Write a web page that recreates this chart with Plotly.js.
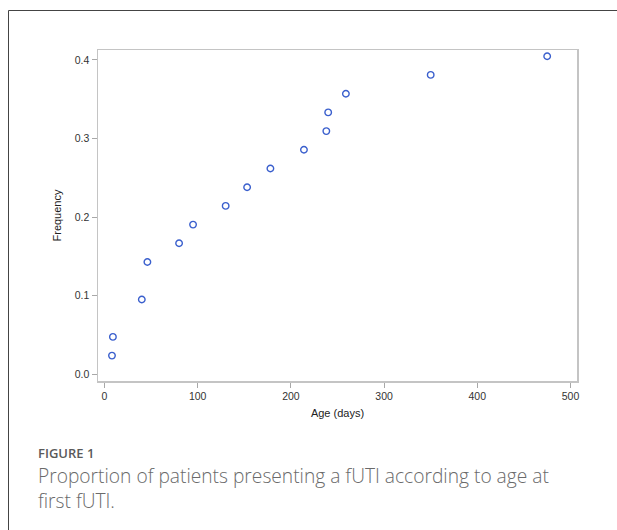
<!DOCTYPE html>
<html>
<head>
<meta charset="utf-8">
<script src="https://cdn.plot.ly/plotly-3.0.1.min.js"></script>
<style>
html,body{margin:0;padding:0;background:#fff;}
#chart{width:617px;height:530px;}
</style>
</head>
<body>
<div id="chart"></div>
<script>
// Data
const ageDays = [8, 9, 40, 46, 80, 95, 130, 153, 178, 214, 238, 240, 259, 350, 475];
const frequency = [0.0238, 0.0476, 0.0952, 0.1429, 0.1667, 0.1905, 0.2143, 0.2381, 0.2619, 0.2857, 0.3095, 0.3333, 0.3571, 0.3810, 0.4048];
const xTicks = [0, 100, 200, 300, 400, 500];
const yTicks = [0.0, 0.1, 0.2, 0.3, 0.4];
const xTitle = 'Age (days)';
const yTitle = 'Frequency';
const figLabel = 'FIGURE 1';
const captionLines = ['Proportion of patients presenting a fUTI according to age at', 'first fUTI.'];

const L = 98, R = 40, T = 50, B = 149;
const W = 617, H = 530;
const pw = W - L - R, ph = H - T - B;
const px = v => (v - L) / pw;
const py = v => (H - B - v) / ph;

const trace = {
  x: ageDays, y: frequency, type: 'scatter', mode: 'markers',
  marker: {symbol: 'circle-open', size: 6.5, color: '#3a5fcd', line: {width: 1.4, color: '#3a5fcd'}},
  hoverinfo: 'x+y'
};

const axisCommon = {
  showline: true, linecolor: '#c4c4c4', linewidth: 1.5, mirror: true,
  ticks: 'outside', ticklen: 5, tickwidth: 1, tickcolor: '#a8a8a8',
  showgrid: false, zeroline: false,
  tickfont: {family: 'Liberation Sans, Arial, sans-serif', size: 10.5, color: '#333'}
};

const layout = {
  width: W, height: H,
  margin: {l: L, r: R, t: T, b: B},
  paper_bgcolor: '#fff', plot_bgcolor: '#fff',
  showlegend: false,
  xaxis: Object.assign({}, axisCommon, {
    range: [-7, 507], tickvals: xTicks, ticktext: xTicks.map(String),
    title: {text: xTitle, standoff: 8, font: {family: 'Liberation Sans, Arial, sans-serif', size: 11, color: '#222'}}
  }),
  yaxis: Object.assign({}, axisCommon, {
    range: [-0.0085, 0.4127], tickvals: yTicks, ticktext: yTicks.map(v => v.toFixed(1)),
    title: {text: yTitle, standoff: 11, font: {family: 'Liberation Sans, Arial, sans-serif', size: 11, color: '#222'}}
  }),
  shapes: [
    {type: 'line', xref: 'paper', yref: 'paper', x0: px(8.5), x1: px(617), y0: py(10.5), y1: py(10.5), line: {color: '#444', width: 1}},
    {type: 'line', xref: 'paper', yref: 'paper', x0: px(8.5), x1: px(8.5), y0: py(10.5), y1: py(530), line: {color: '#444', width: 1}}
  ],
  annotations: [
    {xref: 'paper', yref: 'paper', x: px(36), y: py(453), xanchor: 'left', yanchor: 'middle', showarrow: false,
     text: figLabel, font: {family: 'Open Sans, sans-serif', size: 13, color: '#5a5a5a', weight: 600}},
    {xref: 'paper', yref: 'paper', x: px(36), y: py(487.5), xanchor: 'left', yanchor: 'middle', align: 'left', showarrow: false,
     text: captionLines.join('<br>'), font: {family: 'Open Sans, sans-serif', size: 19.2, color: '#6a6a6a', weight: 300}}
  ]
};

Plotly.newPlot('chart', [trace], layout, {displayModeBar: false, staticPlot: true});
</script>
</body>
</html>
